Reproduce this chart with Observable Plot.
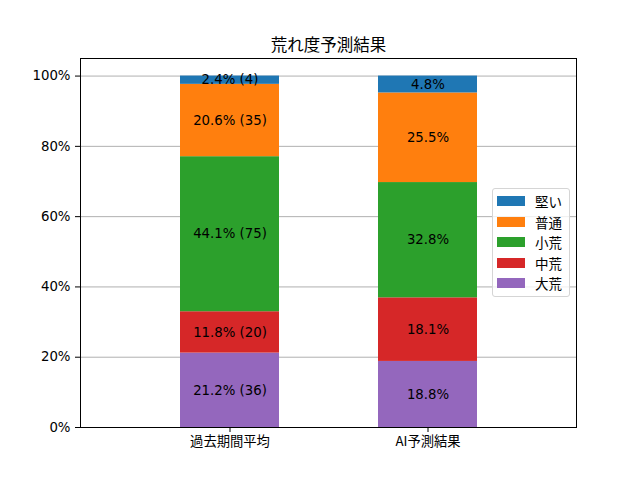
<!DOCTYPE html>
<html>
<head>
<meta charset="utf-8">
<script src="https://cdn.jsdelivr.net/npm/d3@7"></script>
<script src="https://cdn.jsdelivr.net/npm/@observablehq/plot@0.6"></script>
<style>
  body { margin: 0; background: white; }
  #wrap { position: relative; width: 640px; height: 480px; font-family: "DejaVu Sans", "Noto Sans CJK JP", sans-serif; }
  #legend { position: absolute; left: 492px; top: 188px; width: 78px; height: 109px; box-sizing: border-box;
            border: 1px solid #d5d5d5; border-radius: 3px; background: rgba(255,255,255,0.8); }
  .item { position: absolute; left: 0; height: 20px; display: flex; align-items: center; font-size: 13.5px; color: #000; }
  .sw { width: 28px; height: 10px; margin-left: 4px; margin-right: 10px; }
</style>
</head>
<body>
<div id="wrap"></div>
<script>
const title = "荒れ度予測結果";
const groups = ["過去期間平均", "AI予測結果"];
const categories = ["大荒", "中荒", "小荒", "普通", "堅い"];  // bottom → top
const colors = ["#9467bd", "#d62728", "#2ca02c", "#ff7f0e", "#1f77b4"];
const pastCounts = [36, 20, 75, 35, 4];
const aiPercents = [18.8, 18.1, 32.8, 25.5, 4.8];
const yTicks = [0, 20, 40, 60, 80, 100];

const pastTotal = d3.sum(pastCounts);
const rows = [];
categories.forEach((c, i) => {
  const p = pastCounts[i] / pastTotal * 100;
  rows.push({group: groups[0], cat: c, pct: p, label: `${p.toFixed(1)}% (${pastCounts[i]})`});
});
categories.forEach((c, i) => {
  rows.push({group: groups[1], cat: c, pct: aiPercents[i], label: `${aiPercents[i].toFixed(1)}%`});
});

const font = '"DejaVu Sans", "Noto Sans CJK JP", sans-serif';
const fs = 13.3;
const chart = Plot.plot({
  width: 640,
  height: 480,
  marginLeft: 80,
  marginRight: 64,
  marginTop: 58,
  marginBottom: 53,
  style: {fontFamily: font, fontSize: fs + "px", color: "#000", background: "white", overflow: "visible"},
  x: {domain: groups, padding: 0.5, label: null},
  y: {domain: [0, 105], label: null},
  color: {domain: categories, range: colors},
  marks: [
    Plot.gridY(yTicks, {stroke: "#b0b0b0", strokeOpacity: 1, strokeWidth: 1}),
    Plot.barY(rows, Plot.stackY({x: "group", y: "pct", fill: "cat", z: "cat", order: categories})),
    Plot.text(rows, Plot.stackY({x: "group", y: "pct", z: "cat", order: categories, text: "label", fill: "#000", fontSize: fs})),
    Plot.axisY(yTicks, {tickFormat: d => d + "%", tickSize: 5, tickPadding: 5, label: null, stroke: "#000", fontSize: fs}),
    Plot.axisX({tickSize: 5, tickPadding: 4, label: null, stroke: "#000", fontSize: fs,
                fontFamily: '"Noto Sans CJK JP", sans-serif'}),
    Plot.frame({stroke: "#000", strokeWidth: 1}),
    Plot.text([title], {frameAnchor: "top", lineAnchor: "middle", dy: -13, fontSize: 16.5, fill: "#000"})
  ]
});
const wrap = document.getElementById("wrap");
wrap.appendChild(chart);

// legend (top → bottom: reverse of stacking)
const legend = document.createElement("div");
legend.id = "legend";
const rowTops = [2, 22.5, 43, 63.5, 84];
categories.slice().reverse().forEach((c, k) => {
  const idx = categories.indexOf(c);
  const it = document.createElement("div");
  it.className = "item";
  it.style.top = rowTops[k] + "px";
  const sw = document.createElement("div");
  sw.className = "sw";
  sw.style.background = colors[idx];
  const tx = document.createElement("span");
  tx.textContent = c;
  it.appendChild(sw);
  it.appendChild(tx);
  legend.appendChild(it);
});
wrap.appendChild(legend);
</script>
</body>
</html>
